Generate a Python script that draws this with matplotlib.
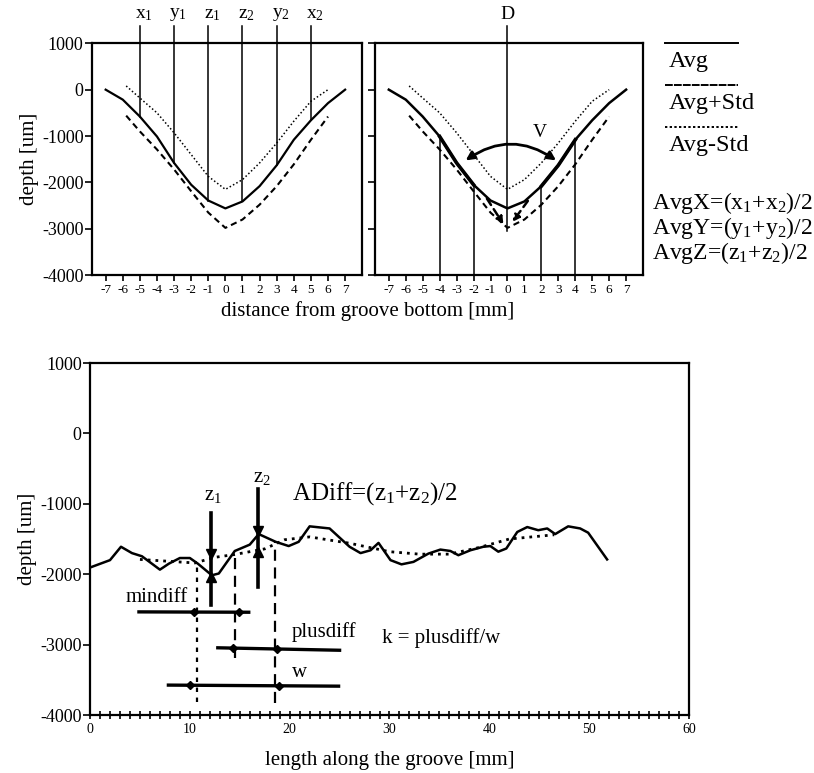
import numpy as np
import matplotlib
matplotlib.use("Agg")
import matplotlib.pyplot as plt
from matplotlib.lines import Line2D
from matplotlib.patches import FancyArrowPatch

plt.rcParams["font.family"] = ["Liberation Serif", "DejaVu Serif"]
plt.rcParams["mathtext.fontset"] = "custom"
plt.rcParams["mathtext.rm"] = "Liberation Serif"
plt.rcParams["mathtext.default"] = "regular"
plt.rcParams["axes.unicode_minus"] = False

# groove cross-section profiles
groove_x = [-7, -6, -5, -4, -3, -2, -1, 0, 1, 2, 3, 4, 5, 6, 7]
avg_depth = [0, -215, -580, -1010, -1580, -2050, -2390, -2560, -2410, -2080, -1630, -1080, -660, -290, 0]
std_x = [-5.8, -5, -4, -3, -2, -1, 0, 1, 2, 3, 4, 5, 6]
avg_plus_std = [80, -180, -500, -930, -1400, -1870, -2150, -1940, -1580, -1150, -680, -250, 0]
avg_minus_std = [-560, -900, -1290, -1720, -2190, -2650, -2980, -2800, -2480, -2080, -1610, -1080, -580]

marker_x = [-5, -3, -1, 1, 3, 5]
marker_labels = ["x$_1$", "y$_1$", "z$_1$", "z$_2$", "y$_2$", "x$_2$"]
v_lines_x = [-4, -2, 2, 4]

# profile along the groove
len_x = [0, 2, 3.1, 4.2, 5.2, 7.0, 7.9, 9.0, 10.0, 10.8, 12.2, 12.9, 14.5, 16.0, 16.9,
         18.6, 19.9, 20.9, 22.0, 24.0, 26.0, 27.1, 28.1, 28.9, 30.1, 31.2, 32.4, 33.9,
         35.1, 36.1, 36.9, 38.1, 39.4, 40.1, 40.9, 41.7, 42.8, 43.8, 44.9, 45.8, 46.6,
         47.9, 49.1, 49.9, 51.8]
len_depth = [-1905, -1800, -1610, -1700, -1745, -1935, -1850, -1770, -1770, -1850, -2015,
             -1990, -1670, -1580, -1430, -1540, -1600, -1540, -1320, -1350, -1610, -1700,
             -1660, -1555, -1800, -1860, -1825, -1707, -1650, -1670, -1730, -1660, -1610,
             -1600, -1680, -1635, -1400, -1330, -1375, -1350, -1430, -1320, -1350, -1410,
             -1790]
smooth_x = [5.0, 10.5, 12.5, 14.5, 17.5, 19.5, 22, 26, 30, 33, 36, 39, 42, 46.5]
smooth_depth = [-1790, -1840, -1760, -1720, -1640, -1510, -1470, -1560, -1680, -1715,
                -1715, -1620, -1500, -1440]

z_x = [12.15, 16.8]
z_top = [-1130, -785]
z_bottom = [-2440, -2180]
z_down_tri = [-1716, -1385]
z_up_tri = [-2040, -1680]

guide_x = [10.7, 14.5, 18.5]
guide_top = [-1850, -1680, -1545]
guide_bottom = [-3810, -3190, -3830]

bar_names = ["mindiff", "plusdiff", "w"]
bar_x0 = [4.9, 12.8, 7.85]
bar_x1 = [15.9, 25.0, 24.9]
bar_y0 = [-2535, -3045, -3575]
bar_y1 = [-2540, -3080, -3590]
bar_marks = [[10.4, 14.9], [14.3, 18.7], [10.0, 18.9]]

fig = plt.figure(figsize=(8.14, 7.73), dpi=100)
ax1 = fig.add_axes([0.113, 0.644, 0.332, 0.300])
ax2 = fig.add_axes([0.461, 0.644, 0.329, 0.300])
ax3 = fig.add_axes([0.1106, 0.075, 0.7358, 0.4554])

for ax in (ax1, ax2):
    ax.set_xlim(-7.8, 8.0)
    ax.set_ylim(-4000, 1000)
    ax.set_xticks(range(-7, 8))
    ax.set_yticks(range(-4000, 1001, 1000))
    ax.tick_params(axis="x", labelsize=9.5, length=4, width=1.2, pad=2)
    ax.tick_params(axis="y", labelsize=13, length=5, width=1.2, pad=1)
    for s in ax.spines.values():
        s.set_linewidth(1.6)
    ax.plot(std_x, avg_plus_std, color="black", lw=1.1, ls=(0, (1, 1.5)))
    ax.plot(std_x, avg_minus_std, color="black", lw=1.5, ls=(0, (3, 2)))
ax2.set_yticklabels([])

# left panel
ax1.plot(groove_x, avg_depth, color="black", lw=1.6)
for xm, lab in zip(marker_x, marker_labels):
    yend = np.interp(xm, groove_x, avg_depth)
    ax1.plot([xm, xm], [yend, 1380], color="black", lw=1.1, clip_on=False)
    ax1.text(xm + 0.25, 1430, lab, ha="center", va="bottom", fontsize=14, clip_on=False)
ax1.set_ylabel("depth [um]", fontsize=15, labelpad=2)

# right panel
ax2.plot(groove_x, avg_depth, color="black", lw=1.8)
ax2.plot(groove_x[3:6], avg_depth[3:6], color="black", lw=2.6)
ax2.plot(groove_x[9:12], avg_depth[9:12], color="black", lw=2.6)
for xv in v_lines_x:
    yend = np.interp(xv, groove_x, avg_depth)
    ax2.plot([xv, xv], [-4000, yend], color="black", lw=1.1)
ax2.plot([0, 0], [-3050, 1380], color="black", lw=1.1, clip_on=False)
ax2.text(0, 1430, "D", ha="center", va="bottom", fontsize=14, clip_on=False)
arc = FancyArrowPatch((-2.6, -1560), (3.0, -1560), connectionstyle="arc3,rad=-0.36",
                      arrowstyle="<|-|>,head_length=5,head_width=2.5", color="black", lw=2)
ax2.add_patch(arc)
ax2.text(1.9, -930, "V", ha="center", va="center", fontsize=14)
for xs, ys, xe, ye in [(-1.3, -2300, -0.15, -2950), (1.3, -2350, 0.2, -2900)]:
    ax2.add_patch(FancyArrowPatch((xs, ys), (xe, ye), arrowstyle="-|>,head_length=4,head_width=2",
                                  color="black", lw=1.8, ls=(0, (3, 2))))

fig.text(0.452, 0.597, "distance from groove bottom [mm]", ha="center", va="center", fontsize=15)

# legend drawn beside the panels
leg_styles = ["-", (0, (4, 0.6)), (0, (1.2, 1.2))]
leg_names = ["Avg", "Avg+Std", "Avg-Std"]
leg_line_y = [0.944, 0.890, 0.836]
for st, nm, ly in zip(leg_styles, leg_names, leg_line_y):
    fig.add_artist(Line2D([0.817, 0.907], [ly, ly], color="black", lw=1.4, ls=st))
    fig.text(0.821, ly - 0.024, nm, ha="left", va="center", fontsize=17.5)
for i, (nm, a, b) in enumerate([("AvgX", "x", "x"), ("AvgY", "y", "y"), ("AvgZ", "z", "z")]):
    fig.text(0.801, 0.737 - i * 0.032, nm + "=(" + a + "$_1$+" + b + "$_2$)/2",
             ha="left", va="center", fontsize=17)

# bottom panel
ax3.set_xlim(0, 60)
ax3.set_ylim(-4000, 1000)
ax3.set_xticks(range(0, 61, 10))
ax3.set_xticks(range(0, 61, 1), minor=True)
ax3.set_yticks(range(-4000, 1001, 1000))
ax3.tick_params(axis="x", which="both", direction="inout", length=6, width=1.2, labelsize=10, pad=3)
ax3.tick_params(axis="y", labelsize=13, length=5, width=1.2, pad=1)
for s in ax3.spines.values():
    s.set_linewidth(1.6)
ax3.plot(len_x, len_depth, color="black", lw=1.8)
ax3.plot(smooth_x, smooth_depth, color="black", lw=2, ls=(0, (1, 1.8)))

for xz, yt, yb, yd, yu in zip(z_x, z_top, z_bottom, z_down_tri, z_up_tri):
    ax3.plot([xz, xz], [yb, yt], color="black", lw=2.6)
    ax3.plot([xz], [yd], marker="v", color="black", ms=7)
    ax3.plot([xz], [yu], marker="^", color="black", ms=7)
ax3.text(z_x[0] + 0.2, -880, "z$_1$", ha="center", va="center", fontsize=15)
ax3.text(z_x[1] + 0.4, -620, "z$_2$", ha="center", va="center", fontsize=15)
ax3.text(20.2, -855, "ADiff=(z$_1$+z$_2$)/2", ha="left", va="center", fontsize=18)

guide_styles = [(0, (2, 2.5)), (0, (5, 3)), (0, (5, 3))]
for xg, yt, yb, st in zip(guide_x, guide_top, guide_bottom, guide_styles):
    ax3.plot([xg, xg], [yb, yt], color="black", lw=1.6, ls=st)

for x0, x1, y0, y1, mk in zip(bar_x0, bar_x1, bar_y0, bar_y1, bar_marks):
    ax3.plot([x0, x1], [y0, y1], color="black", lw=2.4)
    ax3.plot(mk, np.interp(mk, [x0, x1], [y0, y1]), ls="none", marker="D", ms=4, color="black")
ax3.text(6.7, -2330, bar_names[0], ha="center", va="center", fontsize=15)
ax3.text(23.4, -2820, bar_names[1], ha="center", va="center", fontsize=15)
ax3.text(21.0, -3400, bar_names[2], ha="center", va="center", fontsize=15)
ax3.text(35.2, -2910, "k = plusdiff/w", ha="center", va="center", fontsize=15)

fig.text(0.479, 0.016, "length along the groove [mm]", ha="center", va="center", fontsize=15)
ax3.set_ylabel("depth [um]", fontsize=15, labelpad=2)

fig.savefig("out.png", dpi=100)
